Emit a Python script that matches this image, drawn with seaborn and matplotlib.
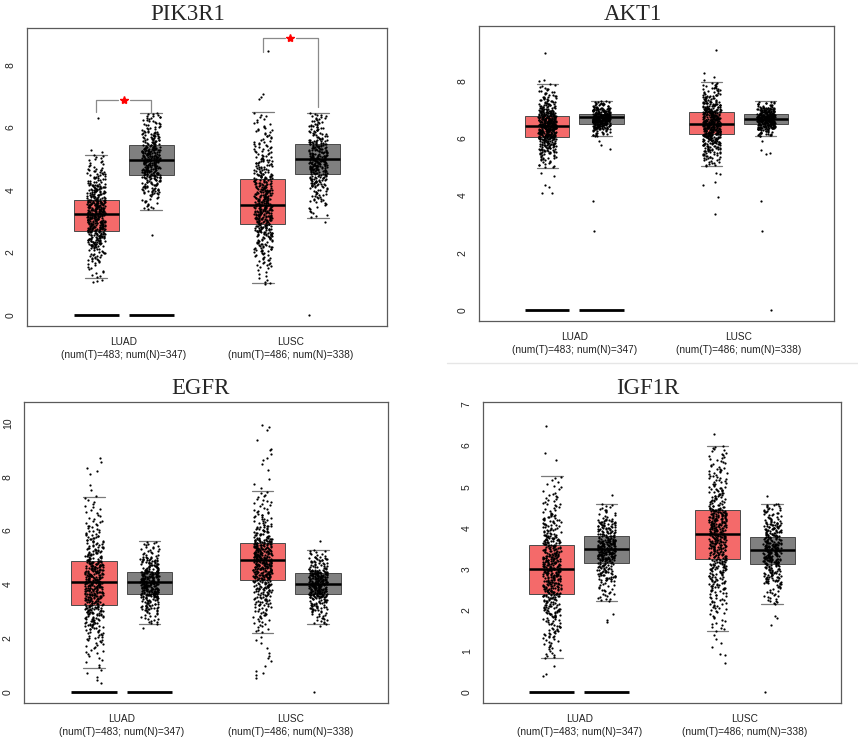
import numpy as np
import pandas as pd
import matplotlib
matplotlib.use("Agg")
import matplotlib.pyplot as plt
from matplotlib.lines import Line2D
import seaborn as sns

# --- datos ---
genes = ["PIK3R1", "AKT1", "EGFR", "IGF1R"]
cancers = ["LUAD", "LUSC"]
n_tumor = [483, 486]
n_normal = [347, 338]
groups = ["LUAD T", "LUAD N", "LUSC T", "LUSC N"]
group_colors = ["#F46A6A", "#808080", "#F46A6A", "#808080"]
zero_bar = [True, True, False, False]

# estadisticos de caja, un sublista por gen (orden = groups)
box_q1 = [[2.68, 4.47, 2.92, 4.52], [6.05, 6.51, 6.14, 6.50],
          [3.25, 3.66, 4.18, 3.65], [2.40, 3.14, 3.23, 3.11]]
box_med = [[3.24, 4.97, 3.51, 4.98], [6.43, 6.74, 6.50, 6.69],
           [4.07, 4.08, 4.91, 4.02], [2.99, 3.48, 3.86, 3.47]]
box_q3 = [[3.69, 5.43, 4.34, 5.48], [6.79, 6.83, 6.93, 6.85],
          [4.87, 4.45, 5.55, 4.41], [3.58, 3.79, 4.43, 3.78]]
whis_lo = [[1.19, 3.37, 1.03, 3.11], [4.97, 6.07, 5.03, 6.07],
           [0.89, 2.52, 2.21, 2.52], [0.83, 2.21, 1.48, 2.14]]
whis_hi = [[5.13, 6.46, 6.48, 6.46], [7.90, 7.30, 7.95, 7.29],
           [7.23, 5.60, 7.47, 5.29], [5.27, 4.59, 6.00, 4.59]]

# cuantos puntos se ven entre los bigotes, por tramos desde whis_lo
hist_step = [0.5, 0.25, 0.5, 0.5]
hist_counts = [
    [[12, 30, 78, 112, 120, 70, 35, 14],
     [18, 50, 90, 100, 55, 27, 5],
     [8, 22, 40, 70, 95, 80, 60, 40, 25, 18, 10],
     [12, 28, 60, 100, 70, 35, 18]],
    [[10, 15, 30, 40, 75, 85, 85, 65, 30, 20, 12, 6],
     [20, 75, 160, 65, 22],
     [12, 20, 30, 40, 70, 75, 70, 60, 40, 25, 15, 8],
     [22, 80, 140, 70, 18]],
    [[6, 12, 22, 38, 55, 75, 80, 70, 40, 28, 16, 9, 5],
     [18, 45, 100, 100, 55, 20, 3],
     [12, 20, 35, 52, 85, 95, 80, 35, 20, 12, 5],
     [20, 45, 105, 115, 40, 10]],
    [[20, 35, 60, 95, 110, 80, 45, 22, 10],
     [25, 65, 160, 75, 17],
     [15, 30, 50, 74, 99, 107, 45, 30, 20],
     [25, 67, 123, 85, 35]],
]

# puntos sueltos fuera de los bigotes
outliers = [
    [[6.31, 5.27, 5.22, 1.12, 1.08, 1.05], [2.56],
     [8.45, 7.07, 6.97, 6.90, 1.02, 1.00], [2.97, 0.0]],
    [[8.99, 8.05, 8.00, 4.80, 4.70, 4.36, 4.30, 4.10, 4.08],
     [5.90, 5.75, 5.64, 3.80, 2.77],
     [9.09, 8.28, 8.15, 8.05, 4.80, 4.75, 4.48, 4.38, 3.95, 3.35],
     [5.90, 5.60, 5.50, 5.44, 3.81, 2.77, 0.0]],
    [[8.71, 8.55, 8.34, 8.20, 8.12, 7.69, 7.50, 7.30, 0.80, 0.70, 0.55, 0.46, 0.33],
     [2.37],
     [9.91, 9.85, 9.75, 9.36, 9.05, 8.99, 8.86, 8.68, 8.62, 8.49, 8.24, 7.93,
      7.75, 7.57, 2.06, 1.94, 1.82, 1.63, 1.45, 1.32, 1.26, 1.14, 0.95, 0.77,
      0.70, 0.64, 0.52],
     [5.60, 2.45, 0.0]],
    [[6.48, 5.81, 5.64, 0.63, 0.45, 0.40], [4.79, 1.90, 1.75, 1.70],
     [6.29, 1.40, 1.30, 1.20, 1.10, 0.92, 0.90, 0.71], [4.78, 1.85, 1.80, 1.63, 0.0]],
]

# corchetes de significancia (solo PIK3R1)
sig_gene = 0
sig_pairs = [(0, 1), (2, 3)]
sig_top = [6.88, 8.86]
sig_left = [6.50, 8.40]
sig_right = [6.47, 6.65]

ylims = [(-0.35, 9.18), (-0.38, 9.92), (-0.41, 10.78), (-0.26, 7.06)]
yticks = [[0, 2, 4, 6, 8], [0, 2, 4, 6, 8], [0, 2, 4, 6, 8, 10], [0, 1, 2, 3, 4, 5, 6, 7]]

# --- layout (pixeles de la figura 858x746) ---
W, H = 858, 746
axes_px = [(27, 28, 387, 326), (479, 26, 834, 321), (24, 402, 388, 703), (483, 402, 841, 703)]
title_px = [(188, 15), (633, 14), (200, 388), (648, 389)]
offset = 0.165
box_w = 0.27

sns.set_style("white")
plt.rcParams["font.family"] = ["Liberation Sans", "DejaVu Sans"]
np.random.seed(3)

fig = plt.figure(figsize=(W / 100, H / 100), dpi=100)
positions = [c + s * offset for c in (1, 2) for s in (-1, 1)]
xlabels = [f"{c}\n(num(T)={t}; num(N)={n})" for c, t, n in zip(cancers, n_tumor, n_normal)]

for g, gene in enumerate(genes):
    x0, y0, x1, y1 = axes_px[g]
    ax = fig.add_axes([x0 / W, 1 - y1 / H, (x1 - x0) / W, (y1 - y0) / H])

    # cajas a partir de los estadisticos leidos
    stats = [dict(med=box_med[g][i], q1=box_q1[g][i], q3=box_q3[g][i],
                  whislo=whis_lo[g][i], whishi=whis_hi[g][i], fliers=[])
             for i in range(4)]
    bp = ax.bxp(stats, positions=positions, widths=box_w, patch_artist=True,
                showfliers=False, capwidths=box_w * 0.48,
                boxprops=dict(edgecolor="#4a4a4a", linewidth=0.7),
                medianprops=dict(color="black", linewidth=1.8),
                whiskerprops=dict(linewidth=0),
                capprops=dict(color="#7a7a7a", linewidth=0.9),
                manage_ticks=False)
    for patch, col in zip(bp["boxes"], group_colors):
        patch.set_facecolor(col)

    # barras en cero
    zx = [p for p, z in zip(positions, zero_bar) if z]
    ax.hlines([0] * len(zx), [p - box_w / 2 for p in zx], [p + box_w / 2 for p in zx],
              color="black", linewidth=2.0, zorder=2)

    # puntos
    rows = []
    for i in range(4):
        counts = hist_counts[g][i]
        starts = whis_lo[g][i] + hist_step[g] * np.arange(len(counts))
        edges = np.append(starts, whis_hi[g][i])
        for k, c in enumerate(counts):
            lo, hi = edges[k], edges[k + 1]
            vals = lo + (np.arange(c) + 0.5) / c * (hi - lo)
            rows += [(positions[i], v) for v in vals]
        rows += [(positions[i], v) for v in outliers[g][i]]
    df = pd.DataFrame(rows, columns=["pos", "val"])
    sns.stripplot(data=df, x="pos", y="val", orient="x", native_scale=True,
                  jitter=0.165, color="black", size=1.6, linewidth=0,
                  zorder=3, ax=ax)

    # corchetes con estrella
    if g == sig_gene:
        gap = 0.035
        for (a, b), yt, yl, yr in zip(sig_pairs, sig_top, sig_left, sig_right):
            xa, xb = positions[a], positions[b]
            xm = (xa + xb) / 2
            kw = dict(color="#8a8a8a", linewidth=0.9, zorder=2)
            ax.plot([xa, xa, xm - gap], [yl, yt, yt], **kw)
            ax.plot([xm + gap, xb, xb], [yt, yt, yr], **kw)
            ax.plot([xm], [yt], marker="*", color="red", markersize=6,
                    linestyle="none", zorder=4)

    ax.set_xlim(0.42, 2.58)
    ax.set_ylim(*ylims[g])
    ax.set_xticks([1, 2])
    ax.set_xticklabels(xlabels, fontsize=7.3, color="#222222", linespacing=1.3)
    ax.set_yticks(yticks[g])
    ax.set_yticklabels([str(t) for t in yticks[g]], rotation=90, va="center",
                       fontsize=7.5, color="#222222")
    ax.tick_params(direction="out", length=4, width=0.8, color="#555555", pad=4)
    ax.set_xlabel("")
    ax.set_ylabel("")
    for sp in ax.spines.values():
        sp.set_color("#5a5a5a")
        sp.set_linewidth(0.9)

    tx, ty = title_px[g]
    fig.text(tx / W, 1 - ty / H, gene, ha="center", va="center",
             family=["Liberation Serif", "DejaVu Serif"], fontsize=16.5)

# linea gris tenue bajo AKT1
fig.add_artist(Line2D([447 / W, 1.0], [1 - 363 / H, 1 - 363 / H],
                      transform=fig.transFigure, color="#e6e6e6", linewidth=1))

fig.savefig("out.png", dpi=100)
